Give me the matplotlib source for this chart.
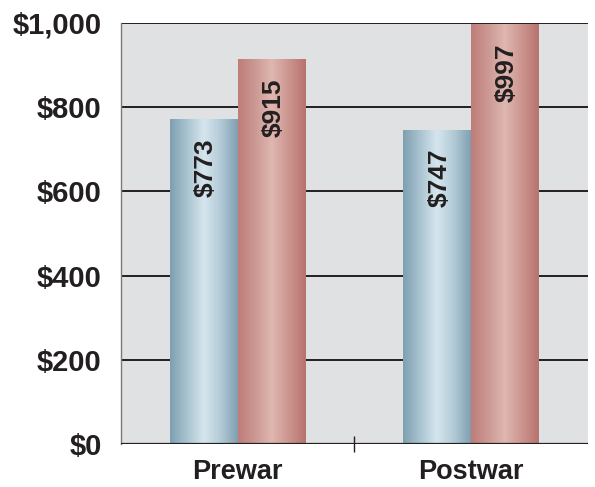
import numpy as np
import matplotlib as mpl
import matplotlib.pyplot as plt
from matplotlib.colors import LinearSegmentedColormap

mpl.rcParams['font.family'] = ['Liberation Sans', 'DejaVu Sans']
mpl.rcParams['font.weight'] = 'bold'

# Average amounts, before and after the war
periods = ['Prewar', 'Postwar']
series_a = [773, 747]
series_b = [915, 997]
yticks = [0, 200, 400, 600, 800, 1000]
ytick_labels = ['$0', '$200', '$400', '$600', '$800', '$1,000']

ink = '#231f20'
blue_cm = LinearSegmentedColormap.from_list(
    'blue_bar', ['#7e9fb0', '#a9c3d0', '#d6e6ee', '#b2cad6', '#7f9fb1'])
red_cm = LinearSegmentedColormap.from_list(
    'red_bar', ['#bf7d79', '#cc9893', '#dfb7b1', '#cc948e', '#b8736e'])

fig = plt.figure(figsize=(5.95, 4.87), dpi=100)
ax = fig.add_axes([0.2034, 0.0883, 0.7846, 0.8645])
ax.set_facecolor('#e0e1e3')

x = np.array([0.5, 1.5])
w = 0.29
ax.set_xlim(0, 2)
ax.set_ylim(0, 1000)

# Horizontal rules behind the bars
for v in yticks[1:]:
    ax.axhline(v, color=ink, lw=1.4, zorder=1)

grad = np.linspace(0, 1, 256).reshape(1, -1)


def shaded_bars(xpos, vals, cmap):
    bars = ax.bar(xpos, vals, w, color='none', edgecolor='none', zorder=2)
    for b in bars:
        x0, y0 = b.get_x(), b.get_y()
        im = ax.imshow(grad, cmap=cmap, aspect='auto', zorder=2,
                       extent=[x0, x0 + b.get_width(), y0, y0 + b.get_height()],
                       interpolation='bicubic')
        im.set_clip_path(b)
    for b, v in zip(bars, vals):
        ax.annotate(f'${v}', (b.get_x() + b.get_width() / 2, v),
                    xytext=(1.5, -14), textcoords='offset points',
                    rotation=90, ha='center', va='top',
                    fontsize=19, fontweight='bold', color=ink, zorder=4)
    return bars


shaded_bars(x - w / 2, series_a, blue_cm)
shaded_bars(x + w / 2, series_b, red_cm)
ax.set_xlim(0, 2)
ax.set_ylim(0, 1000)

# Baseline sits over the bars
ax.axhline(0, color=ink, lw=1.6, zorder=3)

for s in ['top', 'right', 'bottom']:
    ax.spines[s].set_visible(False)
ax.spines['left'].set_color('#7a7a7a')
ax.spines['left'].set_linewidth(1.0)

ax.set_yticks(yticks)
ax.set_yticklabels(ytick_labels, fontsize=21, fontweight='bold', color=ink)
ax.tick_params(axis='y', length=0, pad=14)

ax.set_xticks([1.0])
ax.set_xticklabels([''])
ax.tick_params(axis='x', which='major', direction='inout', length=11,
               width=1.0, color=ink)
ax.set_xticks(x, minor=True)
ax.set_xticklabels(periods, minor=True, fontsize=19.5, fontweight='bold', color=ink)
ax.tick_params(axis='x', which='minor', length=0, pad=11)

fig.savefig('out.png', dpi=100)
